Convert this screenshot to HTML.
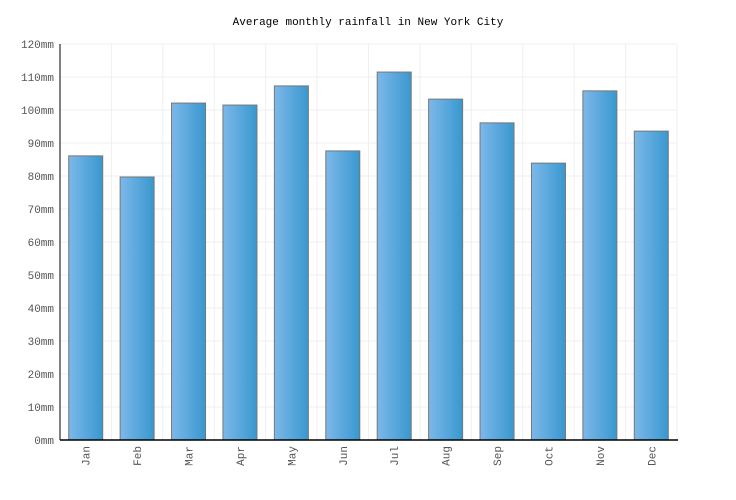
<!DOCTYPE html>
<html><head><meta charset="utf-8"><style>
body{margin:0;background:#fff;}
svg{display:block;font-family:"Liberation Mono","DejaVu Sans Mono",monospace;}
</style></head><body>
<svg id="chart" width="736" height="500" viewBox="0 0 736 500">
<defs><linearGradient id="g" x1="0" x2="1" y1="0" y2="0"><stop offset="0" stop-color="#7db8ea"/><stop offset="1" stop-color="#3898cf"/></linearGradient></defs>
<text x="368" y="25" text-anchor="middle" font-size="11" fill="#000">Average monthly rainfall in New York City</text>
<g id="grid"></g><g id="bars"></g><g id="axes"></g>
</svg>
<script>
const months=["Jan","Feb","Mar","Apr","May","Jun","Jul","Aug","Sep","Oct","Nov","Dec"];
const rainfall=[86.1,79.7,102.1,101.5,107.3,87.6,111.5,103.3,96.1,83.9,105.8,93.6];
const yTicks=[0,10,20,30,40,50,60,70,80,90,100,110,120];
const tickLabels=yTicks.map(v=>v+"mm");
const NS="http://www.w3.org/2000/svg";
const L=60,R=677,T=44,B=440,yMax=120;
const slot=(R-L)/months.length;
const y=v=>B-(v/yMax)*(B-T);
const x=i=>L+i*slot;
function mk(tag,attrs,parent){const e=document.createElementNS(NS,tag);for(const k in attrs)e.setAttribute(k,attrs[k]);parent.appendChild(e);return e;}
const grid=document.getElementById('grid'),bars=document.getElementById('bars'),axes=document.getElementById('axes');
yTicks.forEach((v,i)=>{
  const ln=mk('line',{x1:L,x2:R,y1:y(v),y2:y(v),stroke:'#efefef'},grid);
  
  
  const t=mk('text',{x:L-6,y:y(v)+4,'text-anchor':'end','font-size':11,fill:'#555'},axes);
  t.textContent=tickLabels[i];
  
  
});
for(let i=0;i<=months.length;i++){
  const ln=mk('line',{x1:x(i),x2:x(i),y1:T,y2:B,stroke:'#efefef'},grid);
  
  
}
const bw=34,off=(slot-bw)/2;
rainfall.forEach((v,i)=>{
  const r=mk('rect',{x:x(i)+off,y:y(v),width:bw,height:B-y(v),fill:'url(#g)',stroke:'#777','stroke-width':1},bars);
  
  
  const cx=x(i)+slot/2;
  const t=mk('text',{x:0,y:0,'text-anchor':'end','font-size':11,fill:'#555',transform:`translate(${cx+4},${B+6}) rotate(-90)`},axes);
  t.textContent=months[i];
  
  
});
const xa=mk('line',{x1:L,x2:R+1,y1:B,y2:B,stroke:'#000','stroke-width':1.5},axes);


const ya=mk('line',{x1:L,x2:L,y1:T,y2:B,stroke:'#000','stroke-width':1},axes);


</script>
</body></html>
